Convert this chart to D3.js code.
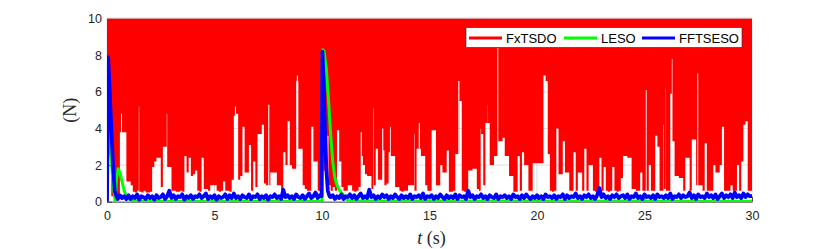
<!DOCTYPE html>
<html>
<head>
<meta charset="utf-8">
<script src="https://cdn.jsdelivr.net/npm/d3@7"></script>
<style>
  body { margin: 0; background: #fff; }
  svg { display: block; }
</style>
</head>
<body>
<div id="chart"></div>
<script>
// axis ticks
const xTicks = [0, 5, 10, 15, 20, 25, 30];
const yTicks = [0, 2, 4, 6, 8, 10];
const seriesNames = ["FxTSDO", "LESO", "FFTSESO"];
const seriesColors = ["#ff0000", "#00ff00", "#0000ff"];

// sampling step of the arrays below (s)
const dt = 0.1;

// FxTSDO chatters up past the top of the axes; this is its lower envelope, one value per 0.1 s
const fxLow = [
  7.0, 2.6, 0.3, 0.3, 0.3, 0.3, 3.8, 3.8, 3.8, 1.1,
  1.1, 0.9, 0.55, 0.5, 0.6, 0.55, 0.5, 0.6, 0.5, 0.5,
  0.55, 1.9, 2.2, 2.4, 2.4, 0.8, 3.0, 3.0, 1.9, 1.9,
  0.6, 0.6, 0.55, 0.55, 0.6, 0.55, 2.5, 1.6, 2.4, 1.4,
  1.5, 1.7, 0.6, 0.55, 2.4, 0.7, 0.7, 0.6, 0.9, 0.9,
  0.9, 0.6, 0.55, 0.6, 1.1, 0.6, 0.6, 0.55, 1.2, 4.7,
  4.8, 1.2, 1.4, 4.1, 1.6, 1.6, 3.1, 0.6, 2.2, 0.8,
  3.7, 3.7, 4.2, 1.0, 0.9, 0.9, 1.6, 1.6, 1.6, 0.9,
  0.9, 0.6, 2.7, 2.0, 4.4, 2.0, 1.8, 1.8, 6.6, 2.9,
  2.9, 0.9, 0.7, 0.6, 0.6, 4.1, 2.2, 2.2, 0.6, 0.55,
  1.7, 1.7, 1.6, 0.9, 0.6, 0.8, 0.6, 3.9, 2.2, 0.8,
  0.6, 0.6, 0.9, 0.9, 0.6, 0.55, 0.6, 0.8, 2.5, 2.0,
  1.5, 1.4, 1.4, 0.7, 0.9, 2.9, 1.2, 1.2, 2.8, 0.9,
  1.0, 2.7, 2.5, 2.5, 0.8, 0.8, 0.6, 0.55, 0.6, 0.6,
  0.9, 0.9, 0.9, 0.6, 2.9, 2.9, 2.5, 2.5, 0.9, 0.6,
  0.6, 3.9, 3.9, 0.9, 0.9, 2.0, 1.6, 1.6, 2.8, 0.55,
  0.55, 0.6, 2.6, 2.6, 5.5, 0.6, 0.55, 0.6, 1.7, 1.7,
  1.8, 1.8, 0.7, 0.6, 3.7, 0.9, 4.3, 4.3, 2.0, 2.0,
  2.5, 2.5, 3.3, 3.3, 3.5, 2.5, 2.5, 1.4, 1.4, 0.55,
  0.55, 2.5, 0.6, 2.7, 2.0, 2.0, 0.6, 0.6, 2.1, 2.1,
  2.1, 2.1, 2.1, 6.9, 6.6, 2.6, 0.6, 0.55, 0.6, 4.0,
  1.5, 1.5, 3.3, 1.6, 1.6, 0.6, 0.6, 2.7, 0.6, 1.6,
  1.6, 0.6, 2.9, 0.6, 2.0, 2.0, 0.6, 0.55, 0.6, 2.4,
  0.6, 1.9, 0.6, 0.55, 0.6, 1.9, 0.6, 0.55, 0.6, 1.3,
  2.5, 2.5, 2.4, 2.4, 0.7, 0.7, 0.6, 0.6, 1.6, 0.6,
  0.6, 0.6, 2.0, 0.6, 0.6, 3.6, 3.0, 0.6, 0.6, 0.7,
  0.6, 0.6, 5.9, 3.3, 1.4, 1.4, 1.3, 1.3, 0.6, 2.4,
  2.4, 0.6, 3.4, 3.4, 0.9, 0.9, 0.9, 0.6, 3.2, 0.6,
  0.6, 0.6, 2.0, 1.6, 1.6, 2.0, 4.1, 0.6, 0.6, 0.6,
  0.9, 0.6, 0.6, 2.0, 0.6, 2.2, 4.2, 4.4, 0.6, 0.6
];
// narrow gaps in the FxTSDO chatter: time (s) and lower value (N)
const fxSpikeT = [0.65, 1.48, 2.78, 4.1, 5.95, 7.5, 8.83, 10.25, 11.8, 12.38, 12.8, 13.16, 14.28, 14.5,
  16.34, 17.38, 17.69, 18.16, 19.9, 24.4, 25.06, 25.88, 25.99, 26.27, 27.46, 29.6];
const fxSpikeV = [4.8, 5.2, 4.8, 5.3, 5.2, 5.3, 6.9, 3.6, 3.8, 5.1, 4.0, 4.1, 3.7, 4.3,
  6.6, 4.0, 5.3, 8.4, 7.8, 5.7, 6.1, 4.2, 6.2, 7.8, 7.0, 4.2];

// LESO
const lesoT = [0, 0.08, 0.15, 0.22, 0.3, 0.38, 0.44, 0.52, 0.6, 0.7, 0.8, 0.9, 1.0, 1.2, 1.5,
  10.0, 10.05, 10.1, 10.2, 10.3, 10.4, 10.5, 10.6, 10.7, 10.8, 10.9, 11.0, 11.1, 11.3, 30];
const lesoV = [0, 5.2, 3.4, 2.0, 0.8, 0.0, 1.2, 1.8, 1.6, 1.1, 0.6, 0.3, 0.15, 0.05, 0.03,
  0.03, 8.3, 8.2, 7.3, 5.6, 3.7, 2.2, 1.3, 0.9, 0.65, 0.5, 0.35, 0.15, 0.05, 0.03];

// FFTSESO: steady-state ripple, one value per 0.1 s (0 ... 30 s)
const fftRipple = [
  0.2, 0.2, 0.2, 0.2, 0.25, 0.15, 0.35, 0.2, 0.3, 0.15,
  0.35, 0.15, 0.3, 0.2, 0.4, 0.1, 0.3, 0.25, 0.15, 0.35,
  0.2, 0.3, 0.1, 0.35, 0.2, 0.25, 0.4, 0.15, 0.3, 0.6,
  0.2, 0.35, 0.15, 0.3, 0.25, 0.4, 0.1, 0.3, 0.2, 0.35,
  0.15, 0.3, 0.25, 0.4, 0.2, 0.3, 0.45, 0.15, 0.3, 0.2,
  0.35, 0.1, 0.3, 0.2, 0.25, 0.4, 0.15, 0.35, 0.2, 0.45,
  0.2, 0.3, 0.15, 0.35, 0.25, 0.2, 0.4, 0.15, 0.3, 0.25,
  0.4, 0.15, 0.3, 0.2, 0.35, 0.1, 0.3, 0.25, 0.4, 0.2,
  0.3, 0.15, 0.65, 0.25, 0.35, 0.2, 0.3, 0.15, 0.4, 0.25,
  0.2, 0.35, 0.15, 0.3, 0.45, 0.2, 0.3, 0.5, 0.2, 0.35,
  0.2, 0.2, 0.2, 0.2, 0.25, 0.35, 0.15, 0.3, 0.2, 0.4,
  0.15, 0.3, 0.25, 0.4, 0.2, 0.35, 0.15, 0.3, 0.45, 0.2,
  0.3, 0.2, 0.65, 0.25, 0.35, 0.15, 0.3, 0.2, 0.4, 0.25,
  0.35, 0.15, 0.3, 0.2, 0.4, 0.25, 0.15, 0.35, 0.2, 0.3,
  0.2, 0.4, 0.15, 0.3, 0.25, 0.35, 0.2, 0.45, 0.15, 0.3,
  0.25, 0.35, 0.15, 0.3, 0.2, 0.4, 0.25, 0.15, 0.35, 0.2,
  0.3, 0.2, 0.4, 0.15, 0.35, 0.25, 0.3, 0.15, 0.6, 0.25,
  0.35, 0.15, 0.3, 0.25, 0.4, 0.2, 0.3, 0.15, 0.35, 0.25,
  0.2, 0.4, 0.15, 0.3, 0.25, 0.35, 0.2, 0.3, 0.15, 0.4,
  0.25, 0.3, 0.15, 0.35, 0.2, 0.4, 0.25, 0.15, 0.3, 0.2,
  0.35, 0.2, 0.3, 0.15, 0.4, 0.25, 0.3, 0.2, 0.35, 0.15,
  0.3, 0.25, 0.4, 0.15, 0.35, 0.2, 0.3, 0.25, 0.45, 0.2,
  0.3, 0.15, 0.35, 0.25, 0.4, 0.2, 0.3, 0.15, 0.35, 0.75,
  0.25, 0.4, 0.2, 0.3, 0.15, 0.35, 0.25, 0.4, 0.2, 0.3,
  0.35, 0.2, 0.4, 0.15, 0.3, 0.25, 0.45, 0.2, 0.3, 0.15,
  0.4, 0.25, 0.3, 0.2, 0.35, 0.15, 0.4, 0.25, 0.3, 0.2,
  0.35, 0.2, 0.45, 0.15, 0.3, 0.25, 0.4, 0.2, 0.35, 0.25,
  0.3, 0.5, 0.2, 0.35, 0.15, 0.4, 0.25, 0.3, 0.2, 0.45,
  0.25, 0.35, 0.2, 0.4, 0.15, 0.3, 0.45, 0.2, 0.35, 0.25,
  0.4, 0.2, 0.5, 0.25, 0.35, 0.2, 0.45, 0.25, 0.4, 0.3,
  0.3
];
// FFTSESO transients at t = 0 and t = 10 s
const fftPeakT = [0, 0.05, 0.12, 0.2, 0.28, 0.36, 0.44,
  9.98, 10.02, 10.08, 10.14, 10.2, 10.27, 10.35];
const fftPeakV = [0, 7.9, 6.2, 4.0, 2.0, 0.6, 0.3,
  0.3, 8.2, 6.3, 3.8, 1.8, 0.6, 0.3];

// ---- layout
const W = 830, H = 249;
const margin = {top: 18.7, right: 78, bottom: 47.3, left: 107};
const width = W - margin.left - margin.right,
      height = H - margin.top - margin.bottom;

const svg = d3.select("#chart")
  .append("svg")
    .attr("width", W)
    .attr("height", H);

svg.append("defs").append("clipPath").attr("id", "plotclip")
  .append("rect")
    .attr("x", margin.left).attr("y", margin.top)
    .attr("width", width).attr("height", height);

const x = d3.scaleLinear().domain([0, 30]).range([margin.left, margin.left + width]);
const y = d3.scaleLinear().domain([0, 10]).range([margin.top + height, margin.top]);

const axisColor = "#262626";
const tickFont = "'Liberation Sans', Arial, Helvetica, sans-serif";

// grid (behind the data, as MATLAB draws it)
const grid = svg.append("g").attr("stroke", axisColor).attr("stroke-opacity", 0.15).attr("stroke-width", 1);
grid.selectAll("line.gx")
  .data(xTicks)
  .join("line")
    .attr("x1", d => x(d)).attr("x2", d => x(d))
    .attr("y1", y(0)).attr("y2", y(10));
grid.selectAll("line.gy")
  .data(yTicks)
  .join("line")
    .attr("x1", x(0)).attr("x2", x(30))
    .attr("y1", d => y(d)).attr("y2", d => y(d));

// axes
const xAxis = svg.append("g")
  .attr("transform", `translate(0,${y(0)})`)
  .call(d3.axisBottom(x).tickValues(xTicks).tickSizeInner(-5).tickSizeOuter(0).tickPadding(9));
const yAxis = svg.append("g")
  .attr("transform", `translate(${x(0)},0)`)
  .call(d3.axisLeft(y).tickValues(yTicks).tickSizeInner(-5).tickSizeOuter(0).tickPadding(5));
[xAxis, yAxis].forEach(g => {
  g.select(".domain").attr("stroke", axisColor).attr("stroke-width", 0.8);
  g.selectAll(".tick line").attr("stroke", axisColor).attr("stroke-width", 0.8);
  g.selectAll("text")
    .attr("fill", axisColor)
    .style("font-family", tickFont)
    .style("font-size", "12.5px");
});

// top box edge
svg.append("line")
  .attr("x1", x(0)).attr("x2", x(30)).attr("y1", y(10) - 0.5).attr("y2", y(10) - 0.5)
  .attr("stroke", "#c8c8c8").attr("stroke-width", 1);

const plot = svg.append("g").attr("clip-path", "url(#plotclip)");

// FxTSDO band: from its lower envelope up past the top of the axes
let fxPts = fxLow.map((v, i) => [i * dt, v]);
fxPts.push([30, fxLow[fxLow.length - 1]]);
fxSpikeT.forEach((t, k) => {
  const i = Math.floor(t / dt);
  fxPts.push([t, fxSpikeV[k]]);
  fxPts.push([Math.min(t + 0.05, (i + 1) * dt - 0.001), fxLow[i]]);
});
fxPts.sort((a, b) => a[0] - b[0]);

plot.append("path")
  .datum(fxPts)
  .attr("fill", seriesColors[0])
  .attr("d", d3.area()
    .x(d => x(d[0]))
    .y0(d => y(d[1]))
    .y1(y(10.5))
    .curve(d3.curveStepAfter));

// LESO
const lesoPts = lesoT.map((t, i) => [t, lesoV[i]]);
plot.append("path")
  .datum(lesoPts)
  .attr("fill", "none")
  .attr("stroke", seriesColors[1])
  .attr("stroke-width", 3)
  .attr("stroke-linejoin", "round")
  .attr("d", d3.line().x(d => x(d[0])).y(d => y(d[1])));

// FFTSESO: ripple with the two transients spliced in
const inPeak = t => t < 0.45 || (t > 9.97 && t < 10.4);
let fftPts = fftRipple.map((v, i) => [i * dt, v]).filter(d => !inPeak(d[0]));
fftPeakT.forEach((t, i) => fftPts.push([t, fftPeakV[i]]));
fftPts.sort((a, b) => a[0] - b[0]);

plot.append("path")
  .datum(fftPts)
  .attr("fill", "none")
  .attr("stroke", seriesColors[2])
  .attr("stroke-width", 3.8)
  .attr("stroke-linejoin", "round")
  .attr("d", d3.line().x(d => x(d[0])).y(d => y(d[1])));

// legend
const legend = svg.append("g").attr("transform", "translate(466,27.5)");
legend.append("rect")
  .attr("width", 276).attr("height", 20)
  .attr("fill", "#fff").attr("stroke", axisColor).attr("stroke-width", 0.6);
const legendX = [3, 98, 176];
const items = legend.selectAll("g.item")
  .data(seriesNames)
  .join("g")
    .attr("transform", (d, i) => `translate(${legendX[i]},0)`);
items.append("line")
  .attr("x1", 0).attr("x2", 33).attr("y1", 10.5).attr("y2", 10.5)
  .attr("stroke", (d, i) => seriesColors[i]).attr("stroke-width", 3.2);
items.append("text")
  .attr("x", 37).attr("y", 15.3)
  .attr("fill", "#000")
  .style("font-family", tickFont)
  .style("font-size", "13px")
  .text(d => d);

// axis labels
const xl = svg.append("text")
  .attr("x", x(15) + 2).attr("y", 244)
  .attr("text-anchor", "middle")
  .style("font-family", "'Liberation Serif', 'Times New Roman', serif")
  .style("font-size", "18px")
  .attr("fill", axisColor);
xl.append("tspan").style("font-style", "italic").text("t");
xl.append("tspan").text(" (s)");

svg.append("text")
  .attr("transform", `translate(76,${y(5)}) rotate(-90)`)
  .attr("text-anchor", "middle")
  .style("font-family", "'Liberation Serif', 'Times New Roman', serif")
  .style("font-size", "18px")
  .attr("fill", axisColor)
  .text("(N)");
</script>
</body>
</html>
